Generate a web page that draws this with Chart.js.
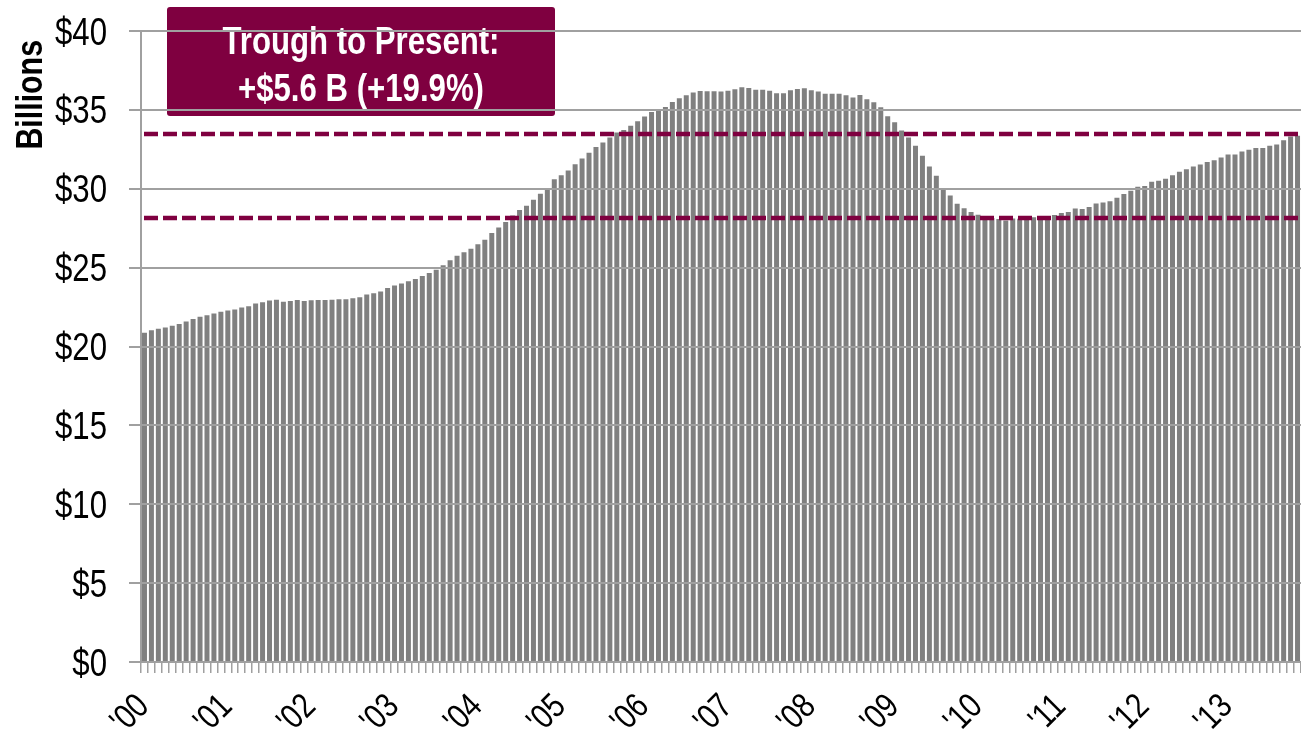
<!DOCTYPE html>
<html>
<head>
<meta charset="utf-8">
<script src="https://cdn.jsdelivr.net/npm/chart.js@4.4.1/dist/chart.umd.min.js"></script>
<style>
  html, body { margin: 0; padding: 0; background: #fff; overflow: hidden; }
  #wrap { width: 1301px; height: 734px; }
</style>
</head>
<body>
<div id="wrap"><canvas id="chart"></canvas></div>
<script>
// monthly values, Jan 2000 .. Nov 2013 ($ billions)
const yearLabels = ["'00", "'01", "'02", "'03", "'04", "'05", "'06", "'07", "'08", "'09", "'10", "'11", "'12", "'13"];
const values = [
  20.87, 21.03, 21.12, 21.20, 21.31, 21.43, 21.58, 21.75, 21.88, 21.98, 22.09, 22.20,
  22.28, 22.34, 22.47, 22.55, 22.72, 22.80, 22.91, 22.97, 22.83, 22.89, 22.95, 22.89,
  22.93, 22.95, 22.95, 22.97, 23.00, 23.00, 23.06, 23.12, 23.29, 23.38, 23.48, 23.71,
  23.86, 23.99, 24.13, 24.28, 24.47, 24.66, 24.87, 25.15, 25.46, 25.76, 25.97, 26.20,
  26.48, 26.77, 27.20, 27.55, 27.89, 28.31, 28.65, 28.92, 29.30, 29.68, 30.04, 30.61,
  30.86, 31.16, 31.56, 31.92, 32.28, 32.64, 32.93, 33.25, 33.56, 33.73, 34.00, 34.28,
  34.58, 34.87, 35.04, 35.19, 35.50, 35.74, 35.93, 36.10, 36.20, 36.18, 36.18, 36.16,
  36.22, 36.31, 36.43, 36.39, 36.27, 36.27, 36.22, 36.06, 36.06, 36.24, 36.33, 36.37,
  36.24, 36.16, 36.03, 36.03, 36.03, 35.93, 35.78, 35.95, 35.67, 35.49, 35.17, 34.60,
  34.22, 33.69, 33.25, 32.72, 32.09, 31.41, 30.82, 30.04, 29.58, 29.05, 28.77, 28.52,
  28.35, 28.20, 28.14, 28.08, 27.99, 28.12, 28.10, 28.16, 28.20, 28.20, 28.25, 28.33,
  28.46, 28.52, 28.75, 28.71, 28.84, 29.07, 29.13, 29.20, 29.43, 29.66, 29.87, 30.12,
  30.18, 30.44, 30.50, 30.63, 30.86, 31.07, 31.24, 31.41, 31.54, 31.69, 31.81, 31.98,
  32.17, 32.17, 32.36, 32.47, 32.58, 32.58, 32.72, 32.80, 33.08, 33.31, 33.36
];
const troughValue = 28.15;
const presentValue = 33.5;
const boxLines = ["Trough to Present:", "+$5.6 B (+19.9%)"];
const axisTitle = "Billions";

const months = values.map((v, i) => (2000 + Math.floor(i / 12)) + "-" + (i % 12 + 1));

const maroon = "#7f0040";
const gridGray = "#a0a0a0";
const fontFamily = "'Liberation Sans', Arial, sans-serif";
const NARROW = 0.82; // squeeze Liberation Sans to look like Arial Narrow

function narrowText(ctx, text, x, y, font, align, angle) {
  ctx.save();
  ctx.translate(x, y);
  if (angle) ctx.rotate(angle);
  ctx.scale(NARROW, 1);
  ctx.font = font;
  ctx.textAlign = align;
  ctx.textBaseline = "alphabetic";
  ctx.fillText(text, 0, 0);
  ctx.restore();
}

const labelPlugin = {
  id: "narrowLabels",
  afterDraw(chart) {
    const { ctx, chartArea, scales: { x, y } } = chart;
    ctx.save();
    ctx.fillStyle = "#000";

    // y tick labels
    y.ticks.forEach(t => {
      const py = y.getPixelForValue(t.value);
      narrowText(ctx, "$" + t.value, chartArea.left - 34, py + 13.5, "38px " + fontFamily, "right");
    });

    // x tick labels, one per year
    x.ticks.forEach((t, i) => {
      if (i % 12 !== 0) return;
      const px = x.getPixelForTick(i);
      narrowText(ctx, yearLabels[i / 12], px + 6, chartArea.bottom + 46, "35px " + fontFamily, "right", -Math.PI / 4);
    });

    // axis title
    narrowText(ctx, axisTitle, 42, chartArea.top + 9, "bold 37px " + fontFamily, "right", -Math.PI / 2);
    ctx.restore();
  }
};

const troughPlugin = {
  id: "troughBox",
  afterDatasetsDraw(chart) {
    const { ctx, chartArea, scales: { y } } = chart;
    ctx.save();

    ctx.strokeStyle = maroon;
    ctx.lineWidth = 4.5;
    ctx.setLineDash([14, 5]);
    [troughValue, presentValue].forEach(v => {
      const py = Math.round(y.getPixelForValue(v));
      ctx.beginPath();
      ctx.moveTo(chartArea.left + 3, py);
      ctx.lineTo(chartArea.right, py);
      ctx.stroke();
    });
    ctx.setLineDash([]);

    const bx = chartArea.left + 26, by = 7, bw = 388, bh = 109;
    ctx.fillStyle = maroon;
    ctx.beginPath();
    ctx.roundRect(bx, by, bw, bh, 3);
    ctx.fill();

    ctx.fillStyle = "#ffffff";
    narrowText(ctx, boxLines[0], bx + bw / 2, by + 47, "bold 38px " + fontFamily, "center");
    narrowText(ctx, boxLines[1], bx + bw / 2, by + 94, "bold 38px " + fontFamily, "center");
    ctx.restore();
  }
};

new Chart(document.getElementById("chart"), {
  type: "bar",
  data: {
    labels: months,
    datasets: [{
      data: values,
      backgroundColor: "#808080",
      borderWidth: 0,
      barPercentage: 0.72,
      categoryPercentage: 1.0
    }]
  },
  options: {
    responsive: true,
    maintainAspectRatio: false,
    animation: false,
    layout: { padding: { top: 31, right: 0, left: 0, bottom: 0 } },
    plugins: {
      legend: { display: false },
      tooltip: { enabled: false }
    },
    scales: {
      x: {
        offset: true,
        afterFit: scale => {
          scale.height = 72;
          scale.paddingLeft = 0;
          scale.paddingRight = 0;
        },
        border: { color: gridGray, width: 2 },
        grid: {
          offset: true,
          drawOnChartArea: false,
          drawTicks: true,
          tickLength: 11,
          color: gridGray,
          lineWidth: 1.5
        },
        ticks: { display: false, autoSkip: false }
      },
      y: {
        min: 0,
        max: 40,
        afterFit: scale => {
          scale.width = 141;
          scale.paddingTop = 0;
          scale.paddingBottom = 0;
        },
        border: { color: gridGray, width: 2, z: 1 },
        grid: {
          z: 1,
          color: gridGray,
          lineWidth: 2,
          tickLength: 12
        },
        ticks: { display: false, stepSize: 5 }
      }
    }
  },
  plugins: [troughPlugin, labelPlugin]
});
</script>
</body>
</html>
